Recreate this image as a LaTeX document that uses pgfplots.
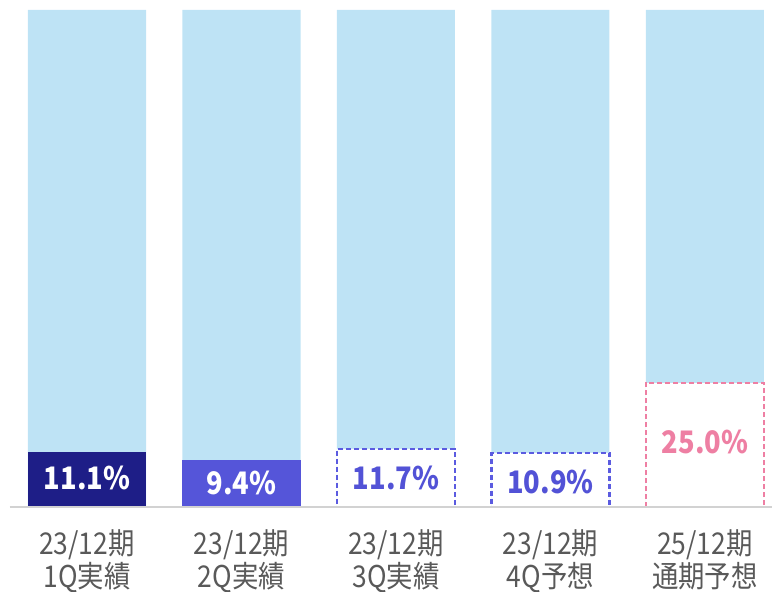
\documentclass[border=0pt]{standalone}
\usepackage{pgfplots}
\pgfplotsset{compat=1.18}
\usepackage{fontspec}
\setmainfont{Noto Sans CJK JP}
\newfontfamily\condfont[FakeStretch=0.88]{Noto Sans CJK JP}
\definecolor{bgblue}{HTML}{BEE3F5}
\definecolor{navy}{HTML}{1E1E87}
\definecolor{midblue}{HTML}{5555D9}
\definecolor{dashblue}{HTML}{5B5BE0}
\definecolor{txtblue}{HTML}{5252D6}
\definecolor{pinkc}{HTML}{EE7FA3}
\definecolor{lblgray}{HTML}{595959}
\begin{document}
\begin{tikzpicture}
\path[use as bounding box] (0pt,0pt) rectangle (772pt,592pt);
\begin{axis}[
  at={(9.75pt,85pt)}, anchor=south west,
  scale only axis, width=762.25pt, height=497pt,
  xmin=-0.5, xmax=4.434, ymin=0, ymax=100,
  enlargelimits=false, clip=false,
  axis line style={draw=none},
  ytick=\empty, major tick length=0pt,
  xtick={0,1,2,3,4},
  xticklabels={{23/12期\\1Q実績},{23/12期\\2Q実績},{23/12期\\3Q実績},{23/12期\\4Q予想},{25/12期\\通期予想}},
  xticklabel style={align=center, text=lblgray, font=\condfont\fontsize{30}{33}\selectfont, yshift=-19pt},
]
\addplot[ybar, bar width=0.764, bar shift=0pt, fill=bgblue, draw=none] coordinates {(0,100) (1,100) (2,100) (3,100) (4,100)};
\addplot[ybar, bar width=0.764, bar shift=0pt, fill=navy, draw=none] coordinates {(0,11.1)};
\addplot[ybar, bar width=0.764, bar shift=0pt, fill=midblue, draw=none] coordinates {(1,9.4)};
\addplot[ybar, bar width=0.764, bar shift=0pt, fill=white, draw=dashblue, line width=2.2pt, dash pattern=on 5pt off 3pt] coordinates {(2,11.7) (3,10.9)};
\addplot[ybar, bar width=0.764, bar shift=0pt, fill=white, draw=pinkc, line width=2.2pt, dash pattern=on 5pt off 3pt] coordinates {(4,25.0)};
\draw[color=gray!35, line width=1.5pt] (axis cs:-0.5,0) -- (axis cs:4.434,0);
\begin{scope}[every node/.style={font=\condfont\fontsize{31}{36}\selectfont\bfseries}]
\node[text=white] at (axis cs:0,5.8) {11.1\%};
\node[text=white] at (axis cs:1,4.8) {9.4\%};
\node[text=txtblue] at (axis cs:2,5.8) {11.7\%};
\node[text=txtblue] at (axis cs:3,5.0) {10.9\%};
\node[text=pinkc] at (axis cs:4,13.1) {25.0\%};
\end{scope}
\end{axis}
\end{tikzpicture}
\end{document}
